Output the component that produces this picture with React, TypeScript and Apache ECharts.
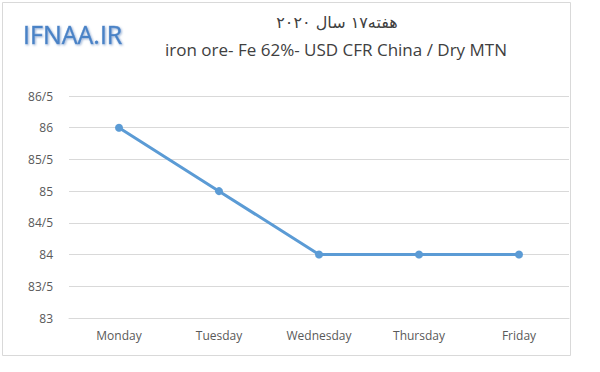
import React, { useEffect, useRef } from "react";
import * as echarts from "echarts";

const categories = ["Monday", "Tuesday", "Wednesday", "Thursday", "Friday"];
const prices = [86, 85, 84, 84, 84];
const titleFa = "هفته۱۷ سال ۲۰۲۰";
const titleEn = "iron ore- Fe 62%- USD CFR China / Dry MTN";
const logoText = "IFNAA.IR";

export default function App() {
  const ref = useRef<HTMLDivElement>(null);
  useEffect(() => {
    const chart = echarts.init(ref.current!, null, { renderer: "svg" });
    chart.setOption({
      animation: false,
      backgroundColor: "#ffffff",
      grid: { left: 69, right: 31, top: 96, bottom: 54 },
      xAxis: {
        type: "category",
        data: categories,
        boundaryGap: true,
        axisLine: { show: true, lineStyle: { color: "#d9d9d9", width: 1 } },
        axisTick: { show: false },
        axisLabel: { color: "#595959", fontSize: 12, fontFamily: "Open Sans", margin: 11 },
      },
      yAxis: {
        type: "value",
        min: 83,
        max: 86.5,
        interval: 0.5,
        axisLine: { show: false },
        axisTick: { show: false },
        splitLine: { lineStyle: { color: "#d9d9d9", width: 1 } },
        axisLabel: {
          color: "#595959",
          fontSize: 12,
          fontFamily: "Open Sans",
          margin: 16,
          formatter: (v: number) => String(v).replace(".", "/"),
        },
      },
      series: [
        {
          type: "line",
          data: prices,
          symbol: "circle",
          symbolSize: 8,
          lineStyle: { color: "#5b9bd5", width: 3 },
          itemStyle: { color: "#5b9bd5" },
        },
      ],
      graphic: [
        {
          type: "rect",
          shape: { x: 2.5, y: 2.5, width: 568, height: 353 },
          style: { fill: "none", stroke: "#d9d9d9", lineWidth: 1 },
          silent: true,
        },
        {
          type: "text",
          x: 23,
          y: 34,
          style: {
            text: logoText,
            fill: "#4a82c6",
            stroke: "#7fa7d8",
            lineWidth: 0.6,
            fontSize: 25,
            fontFamily: "Open Sans",
            fontWeight: "normal",
            textVerticalAlign: "middle",
            textShadowColor: "rgba(80,120,180,0.55)",
            textShadowBlur: 2,
            textShadowOffsetX: 1,
            textShadowOffsetY: 1,
          },
        },
        {
          type: "text",
          x: 337,
          y: 22,
          style: {
            text: titleFa,
            fill: "#404040",
            fontSize: 16,
            fontFamily: "DejaVu Sans",
            textAlign: "center",
            textVerticalAlign: "middle",
          },
        },
        {
          type: "text",
          x: 336,
          y: 49,
          style: {
            text: titleEn,
            fill: "#404040",
            fontSize: 17,
            fontFamily: "Open Sans",
            textAlign: "center",
            textVerticalAlign: "middle",
          },
        },
      ],
    });
    return () => chart.dispose();
  }, []);
  return (
    <div style={{ position: "fixed", left: 0, top: 0, width: 600, height: 372, background: "#fff" }}>
      <div ref={ref} style={{ width: 600, height: 372 }} />
    </div>
  );
}
